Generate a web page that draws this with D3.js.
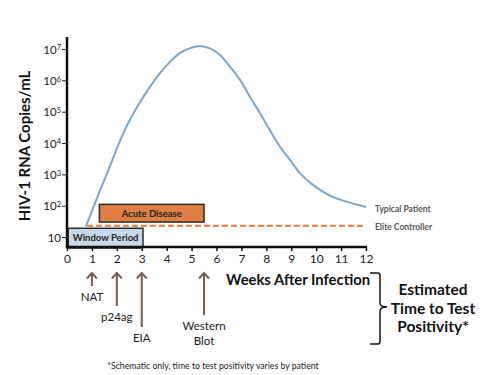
<!DOCTYPE html>
<html>
<head>
<meta charset="utf-8">
<script type="text/javascript" src="https://d3js.org/d3.v7.min.js"></script>
<style>
  body { margin: 0; background: #fff; }
  text { font-family: "Lato", "DejaVu Sans", sans-serif; }
</style>
</head>
<body>
<div id="viz"></div>
<script type="text/javascript">

// viral load of a typical patient, weeks after infection
var weeks  = [0.76, 1.32, 1.73, 2.13, 2.53, 2.93, 3.33, 3.73, 4.13, 4.53, 4.94, 5.34, 5.74, 6.14, 6.54, 6.94, 7.34, 7.74, 8.55, 8.95, 9.35, 9.87, 10.67, 12.0];
var copies = [22, 300, 1860, 12000, 56000, 200000, 620000, 1700000, 3900000, 7400000, 10700000, 12600000, 10500000, 6500000, 2750000, 1050000, 300000, 91000, 7600, 2900, 1100, 460, 190, 91];

// elite controller level
var eliteLevel = 23;
var eliteStart = 0.8;

var xTicks = [0,1,2,3,4,5,6,7,8,9,10,11,12];
var yTicks = [10, 100, 1000, 10000, 100000, 1000000, 10000000];
var yExp   = ["", "2", "3", "4", "5", "6", "7"];

// phase boxes (weeks)
var phases = [
  {name: "Acute Disease", from: 1.3, to: 5.5, lo: 30, hi: 110, fill: "#e07f45"},
  {name: "Window Period", from: 0.05, to: 3.05, lo: 4.8, hi: 19, fill: "#c5d9ea"}
];

// tests and the week they turn positive
var tests     = ["NAT", "p24ag", "EIA", "Western|Blot"];
var testWeeks = [1, 2, 3, 5.5];
var testLen   = [13, 33, 54, 42];

var width = 500, height = 375;

var svg = d3.select("#viz").append("svg")
    .attr("width", width)
    .attr("height", height);

var x = d3.scaleLinear().domain([0, 12]).range([67, 366]);
var y = d3.scaleLog().domain([4.8, 2.42e7]).range([247, 37]);

// phase boxes
phases.forEach(function(p, i) {
    if (i == 1) {
        svg.append("rect")
            .attr("x", x(p.from) - 2).attr("y", y(p.hi) + 2)
            .attr("width", x(p.to) - x(p.from)).attr("height", y(p.lo) - y(p.hi))
            .style("fill", "#555");
    }
    svg.append("rect")
        .attr("x", x(p.from)).attr("y", y(p.hi))
        .attr("width", x(p.to) - x(p.from)).attr("height", y(p.lo) - y(p.hi))
        .style("fill", p.fill)
        .style("stroke", "#2b2b2b")
        .style("stroke-width", 1.5);
    svg.append("text")
        .attr("x", (x(p.from) + x(p.to)) / 2)
        .attr("y", (y(p.lo) + y(p.hi)) / 2 + 3.5)
        .attr("text-anchor", "middle")
        .style("font-size", "9.5px")
        .style("font-weight", "bold")
        .style("fill", "#222")
        .text(p.name);
});

// elite controller dashed line
svg.append("line")
    .attr("x1", x(eliteStart)).attr("x2", x(12))
    .attr("y1", y(eliteLevel)).attr("y2", y(eliteLevel))
    .style("stroke", "#e07b39")
    .style("stroke-width", 2)
    .style("stroke-dasharray", "6,3");

// typical patient curve
var line = d3.line()
    .x(function(d, i) { return x(weeks[i]); })
    .y(function(d) { return y(d); })
    .curve(d3.curveCatmullRom);

svg.append("path")
    .attr("d", line(copies))
    .style("fill", "none")
    .style("stroke", "#7ba6cc")
    .style("stroke-width", 2);

svg.append("text")
    .attr("x", 375).attr("y", y(copies[copies.length - 1]) + 5)
    .style("font-size", "8.5px").style("font-weight", "bold").style("fill", "#555")
    .text("Typical Patient");
svg.append("text")
    .attr("x", 375).attr("y", y(eliteLevel) + 4)
    .style("font-size", "8.5px").style("font-weight", "bold").style("fill", "#555")
    .text("Elite Controller");

// y axis
var yAxis = d3.axisLeft(y)
    .tickValues(yTicks)
    .tickSize(5)
    .tickPadding(2)
    .tickFormat("");

var gy = svg.append("g")
    .attr("transform", "translate(67,0)")
    .call(yAxis);
gy.select(".domain").remove();
gy.selectAll(".tick line").style("stroke", "#222");
gy.selectAll(".tick").append("text")
    .attr("x", -6).attr("dy", "0.35em")
    .attr("text-anchor", "end")
    .style("font-size", "11.5px")
    .style("fill", "#222")
    .each(function(d, i) {
        var t = d3.select(this);
        t.append("tspan").text("10");
        if (yExp[i] != "")
            t.append("tspan").attr("dy", "-0.45em").style("font-size", "7.5px").text(yExp[i]);
    });

svg.append("line")
    .attr("x1", 67).attr("x2", 67)
    .attr("y1", 37).attr("y2", 248)
    .style("stroke", "#111").style("stroke-width", 2.5);

// x axis
var xAxis = d3.axisBottom(x)
    .tickValues(xTicks)
    .tickSize(4)
    .tickPadding(3);

var gx = svg.append("g")
    .attr("transform", "translate(0,247)")
    .call(xAxis);
gx.select(".domain").remove();
gx.selectAll(".tick line").style("stroke", "#111").style("stroke-width", 1.5);
gx.selectAll(".tick text")
    .style("font-size", "12px")
    .style("fill", "#222")
    .style("font-family", "Lato, sans-serif");

svg.append("line")
    .attr("x1", 66).attr("x2", 367)
    .attr("y1", 247).attr("y2", 247)
    .style("stroke", "#111").style("stroke-width", 2.5);

// axis titles
svg.append("text")
    .attr("transform", "translate(30,146) rotate(-90)")
    .attr("text-anchor", "middle")
    .style("font-size", "15px")
    .style("font-weight", "bold")
    .style("fill", "#111")
    .text("HIV-1 RNA Copies/mL");

svg.append("text")
    .attr("x", 226).attr("y", 285)
    .style("font-size", "14.8px")
    .style("font-weight", "bold")
    .style("fill", "#111")
    .text("Weeks After Infection");

// test arrows
var arrowTop = 273;
tests.forEach(function(t, i) {
    var ax = x(testWeeks[i]);
    var bottom = arrowTop + testLen[i];
    svg.append("line")
        .attr("x1", ax).attr("x2", ax)
        .attr("y1", arrowTop).attr("y2", bottom)
        .style("stroke", "#7a5c50").style("stroke-width", 2);
    svg.append("path")
        .attr("d", "M" + (ax - 5) + "," + (arrowTop + 5.5) + " L" + ax + "," + arrowTop + " L" + (ax + 5) + "," + (arrowTop + 5.5))
        .style("fill", "none")
        .style("stroke", "#7a5c50").style("stroke-width", 2);
    var parts = t.split("|");
    parts.forEach(function(p, j) {
        svg.append("text")
            .attr("x", ax).attr("y", bottom + 15 + j * 15)
            .attr("text-anchor", "middle")
            .style("font-size", "11.5px")
            .style("fill", "#222")
            .text(p);
    });
});

// bracket
svg.append("path")
    .attr("d", "M370,273 H378 Q380,273 380,276 V303 Q380,307 387,307 Q380,307 380,311 V341 Q380,344 378,344 H370")
    .style("fill", "none")
    .style("stroke", "#111")
    .style("stroke-width", 1.5);

var bracketLines = ["Estimated", "Time to Test", "Positivity*"];
bracketLines.forEach(function(s, i) {
    svg.append("text")
        .attr("x", 433).attr("y", 295 + i * 18.5)
        .attr("text-anchor", "middle")
        .style("font-size", "15.5px")
        .style("font-weight", "bold")
        .style("fill", "#111")
        .text(s);
});

// footnote
svg.append("text")
    .attr("x", 213).attr("y", 369)
    .attr("text-anchor", "middle")
    .style("font-size", "8.7px")
    .style("fill", "#222")
    .text("*Schematic only, time to test positivity varies by patient");

</script>
</body>
</html>
